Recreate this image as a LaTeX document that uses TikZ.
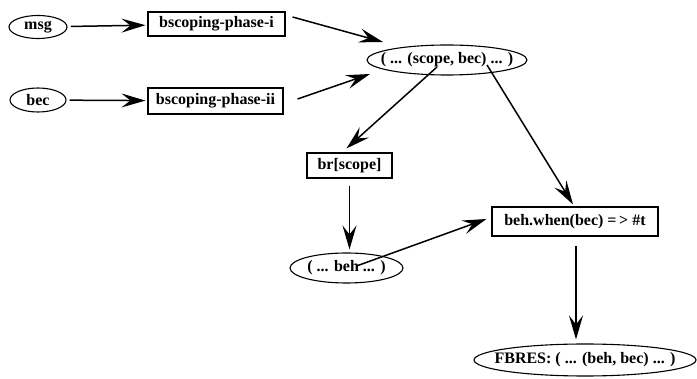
\documentclass[tikz,border=0pt]{standalone}
\usepackage{fontspec}
\setmainfont{Liberation Serif}
\usetikzlibrary{shapes.geometric,arrows.meta}
\newcommand{\ovaltext}[1]{\makebox[0pt]{#1}}
\begin{document}
\begin{tikzpicture}[x=1pt,y=-1pt,
  every node/.style={font=\fontsize{16}{18}\selectfont\bfseries, inner sep=0pt},
  oval/.style={ellipse, draw, line width=1.1pt},
  box/.style={rectangle, draw, line width=1.1pt},
  arr/.style={line width=1.5pt, -{Stealth[length=24pt,width=14pt,inset=9pt]}}]
\useasboundingbox (0,0) rectangle (697,379);

% nodes
\node[oval, minimum width=58, minimum height=23] (msg) at (38,27) {\ovaltext{msg}};
\node[oval, minimum width=56, minimum height=24] (bec) at (38,100) {\ovaltext{bec}};
\node[box, minimum width=137, minimum height=24] (bpi) at (216.5,24) {bscoping-phase-i};
\node[box, minimum width=135, minimum height=26] (bpii) at (215.5,101) {bscoping-phase-ii};
\node[oval, minimum width=160, minimum height=30] (scope) at (447,60) {\ovaltext{( ... (scope, bec) ... )}};
\node[box, minimum width=85, minimum height=25] (br) at (349.5,165.5) {br[scope]};
\node[oval, minimum width=113, minimum height=30] (beh) at (346.5,268) {\ovaltext{( ... beh ... )}};
\node[box, minimum width=166, minimum height=29] (when) at (575,221.5) {beh.when(bec) =\,> \#t};
\node[oval, minimum width=222, minimum height=32] (fbres) at (585,360) {\ovaltext{FBRES: ( ... (beh, bec) ... )}};

% connectors
\draw[arr, shorten <=3pt, shorten >=2pt] (msg) -- (bpi);
\draw[arr, shorten <=3pt, shorten >=2pt] (bec) -- (bpii);
\draw[arr] ([shift={(7,-7)}]bpi.east) -- ([shift={(-64,-18)}]scope.center);
\draw[arr] ([shift={(14,-2)}]bpii.east) -- ([shift={(-77,14)}]scope.center);
\draw[arr] ([shift={(-10,7)}]scope.center) -- ([shift={(-3,-4)}]br.north);
\draw[arr] ([shift={(40,5)}]scope.center) -- ([shift={(-2,-2)}]when.north);
\draw[arr] ([shift={(0,7)}]br.south) -- ([shift={(0,-3)}]br.south |- beh.north);
\draw[arr] ([shift={(10,-2)}]beh.center) -- ([shift={(-5,-2.5)}]when.west);
\draw[arr] ([shift={(1,9)}]when.south) -- ([shift={(1,-4)}]when.south |- fbres.north);
\end{tikzpicture}
\end{document}
